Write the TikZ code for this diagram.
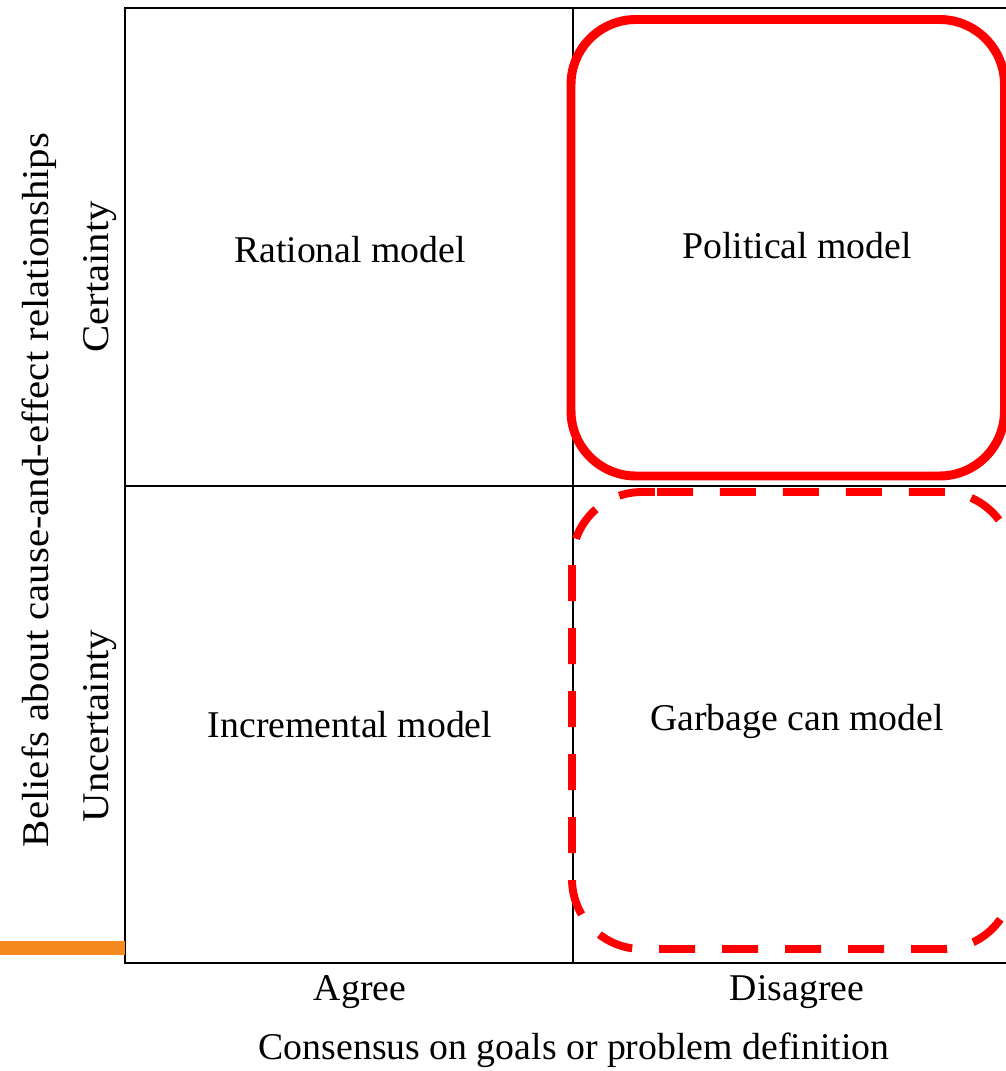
\documentclass[tikz,border=0pt]{standalone}
\usepackage{fontspec}
\setmainfont{Liberation Serif}
\usepackage{tikz}
\definecolor{mred}{rgb}{1, 0, 0}
\definecolor{morange}{rgb}{0.97, 0.54, 0.12}
\tikzset{grid/.style = {line width=1.1pt, black},
         label/.style = {font=\fontsize{21.5}{26}\selectfont, inner sep=0pt},
         sidelabel/.style = {label, rotate=90},
         solidbox/.style = {mred, line width=5.1pt, rounded corners=1.3cm},
         dashbox/.style = {mred, line width=4.5pt, rounded corners=1.4cm,
                           dash pattern=on 0.72cm off 0.54cm}}
\newcommand{\stretched}[1]{\scalebox{1.08}[1]{#1}}

\begin{document}
\begin{tikzpicture}[x=0.02cm, y=-0.02cm]
    \useasboundingbox (0, 0) rectangle (1006, 1071);

    \draw [grid] (125, 8) rectangle (1012, 963);
    \draw [grid] (573, 8) -- (573, 963);
    \draw [grid] (125, 486) -- (1012, 486);
    \draw [morange, line width=0.28cm] (0, 948) -- (125, 948);

    \draw [solidbox] (571, 19.5) rectangle (1004.5, 476);
    \draw [dashbox] (657, 492) -- (1013, 492) -- (1013, 949) -- (572, 949) -- (572, 492) -- (657, 492);

    \node [label] (rational) at (350, 250) {Rational model};
    \node [label] (political) at (797, 246) {Political model};
    \node [label] (incremental) at (350, 725) {Incremental model};
    \node [label] (garbage) at (797, 721) {Garbage can model};

    \node [label] (agree) at (360, 992) {Agree};
    \node [label] (disagree) at (797, 992) {Disagree};
    \node [label] (consensus) at (574, 1050) {Consensus on goals or problem definition};

    \node [sidelabel] (certainty) at (100, 277) {\stretched{Certainty}};
    \node [sidelabel] (uncertainty) at (100, 726) {\stretched{Uncertainty}};
    \node [sidelabel] (beliefs) at (39, 490) {\stretched{Beliefs about cause-and-effect relationships}};
  \end{tikzpicture}
\end{document}
